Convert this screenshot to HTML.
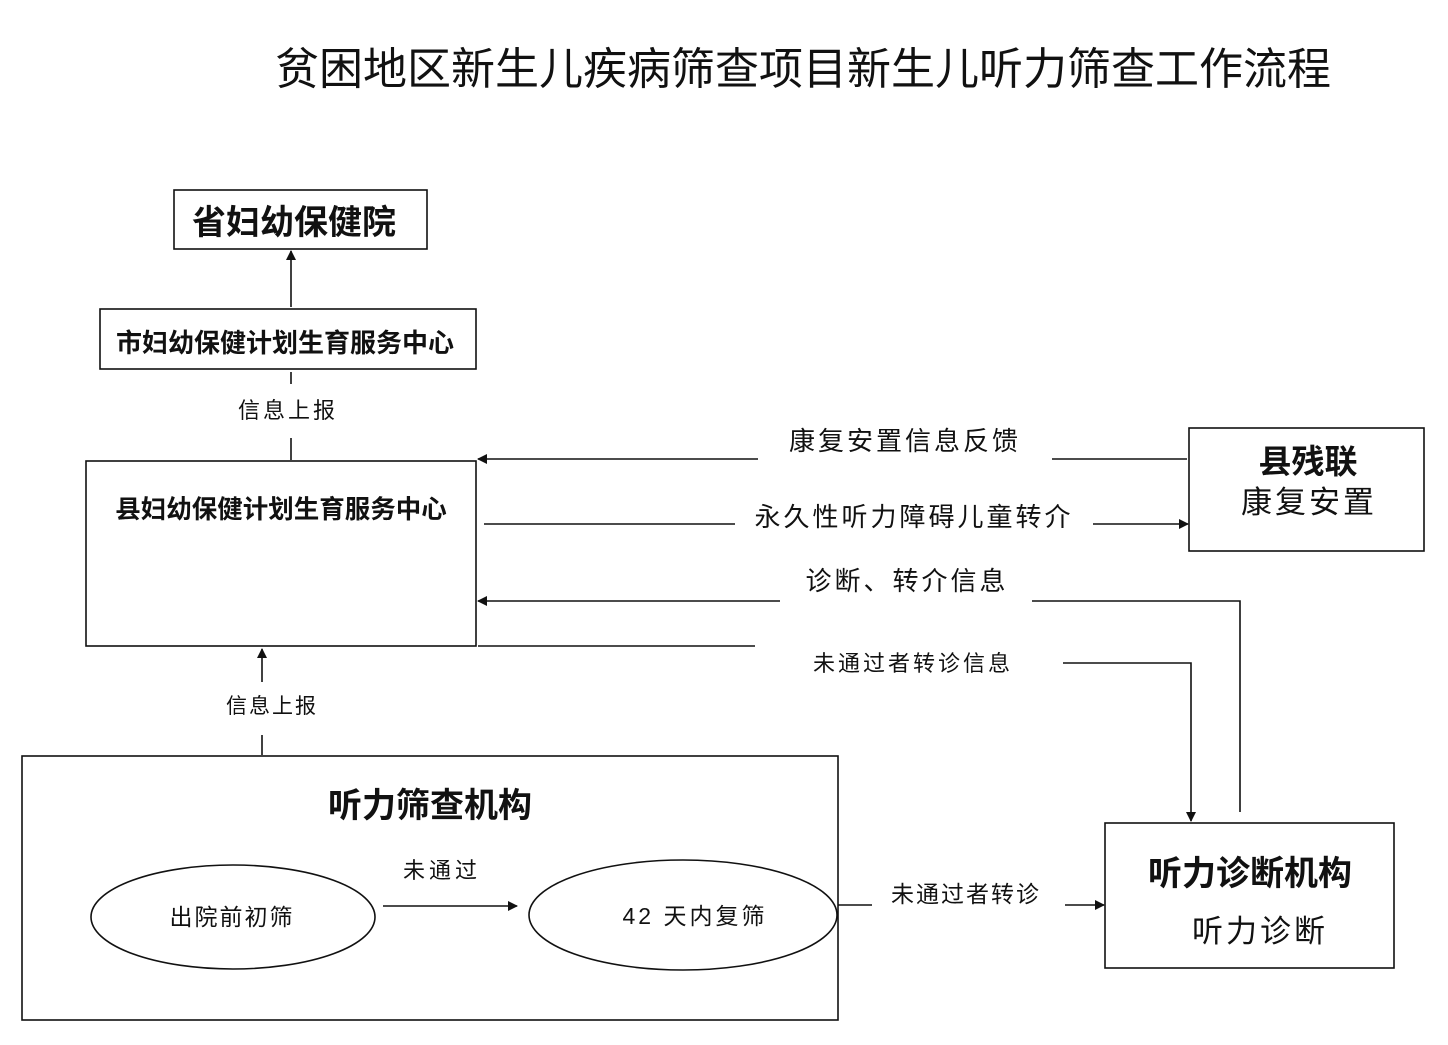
<!DOCTYPE html>
<html><head><meta charset="utf-8"><style>
html,body{margin:0;padding:0;background:#fff;}
svg{display:block;}
text{font-family:"Liberation Sans","Noto Sans CJK SC",sans-serif;fill:#111;}
.b{font-weight:bold;}
</style></head><body>
<svg width="1448" height="1045" viewBox="0 0 1448 1045" xmlns="http://www.w3.org/2000/svg">
<defs><marker id="a" markerWidth="10" markerHeight="10" refX="9" refY="5" orient="auto" markerUnits="userSpaceOnUse"><path d="M0,0 L10,5 L0,10 z" fill="#111"/></marker></defs>
<g stroke="#111" stroke-width="1.6" fill="none">
<rect x="174" y="190" width="253" height="59"/>
<rect x="100" y="309" width="376" height="60"/>
<rect x="86" y="461" width="390" height="185"/>
<rect x="1189" y="428" width="235" height="123"/>
<rect x="22" y="756" width="816" height="264"/>
<rect x="1105" y="823" width="289" height="145"/>
<ellipse cx="233" cy="917" rx="142" ry="52"/>
<ellipse cx="683" cy="915" rx="154" ry="55"/>
<line x1="291" y1="307" x2="291" y2="251" marker-end="url(#a)"/>
<line x1="291" y1="372" x2="291" y2="384"/>
<line x1="291" y1="438" x2="291" y2="460"/>
<line x1="1187" y1="459" x2="1052" y2="459"/>
<line x1="758" y1="459" x2="478" y2="459" marker-end="url(#a)"/>
<line x1="484" y1="524" x2="735" y2="524"/>
<line x1="1093" y1="524" x2="1188" y2="524" marker-end="url(#a)"/>
<polyline points="1240,812 1240,601 1032,601"/>
<line x1="780" y1="601" x2="478" y2="601" marker-end="url(#a)"/>
<line x1="478" y1="646" x2="755" y2="646"/>
<polyline points="1063,663 1191,663 1191,821" marker-end="url(#a)"/>
<line x1="262" y1="755" x2="262" y2="735"/>
<line x1="262" y1="682" x2="262" y2="649" marker-end="url(#a)"/>
<line x1="383" y1="906" x2="517" y2="906" marker-end="url(#a)"/>
<line x1="838" y1="905" x2="872" y2="905"/>
<line x1="1065" y1="905" x2="1104" y2="905" marker-end="url(#a)"/>
</g>
<g text-anchor="middle">
<text x="803" y="84" font-size="44">贫困地区新生儿疾病筛查项目新生儿听力筛查工作流程</text>
<text x="294" y="234" font-size="34" class="b">省妇幼保健院</text>
<text x="285" y="352" font-size="26" class="b">市妇幼保健计划生育服务中心</text>
<text x="288" y="418" font-size="22" letter-spacing="3">信息上报</text>
<text x="281" y="518" font-size="25.5" class="b">县妇幼保健计划生育服务中心</text>
<text x="905" y="450" font-size="26" letter-spacing="3">康复安置信息反馈</text>
<text x="914" y="526" font-size="26" letter-spacing="3">永久性听力障碍儿童转介</text>
<text x="907" y="590" font-size="26" letter-spacing="3">诊断、转介信息</text>
<text x="913" y="671" font-size="22" letter-spacing="3">未通过者转诊信息</text>
<text x="1308" y="473" font-size="33" class="b">县残联</text>
<text x="1309" y="513" font-size="31" letter-spacing="3">康复安置</text>
<text x="272" y="713" font-size="21" letter-spacing="2">信息上报</text>
<text x="430" y="817" font-size="34" class="b">听力筛查机构</text>
<text x="232" y="925" font-size="23" letter-spacing="2">出院前初筛</text>
<text x="442" y="878" font-size="22" letter-spacing="4">未通过</text>
<text x="695" y="924" font-size="23" letter-spacing="3">42 天内复筛</text>
<text x="966" y="902" font-size="23" letter-spacing="2">未通过者转诊</text>
<text x="1250" y="885" font-size="34" class="b">听力诊断机构</text>
<text x="1260" y="942" font-size="31" letter-spacing="3">听力诊断</text>
</g>
</svg>
</body></html>
